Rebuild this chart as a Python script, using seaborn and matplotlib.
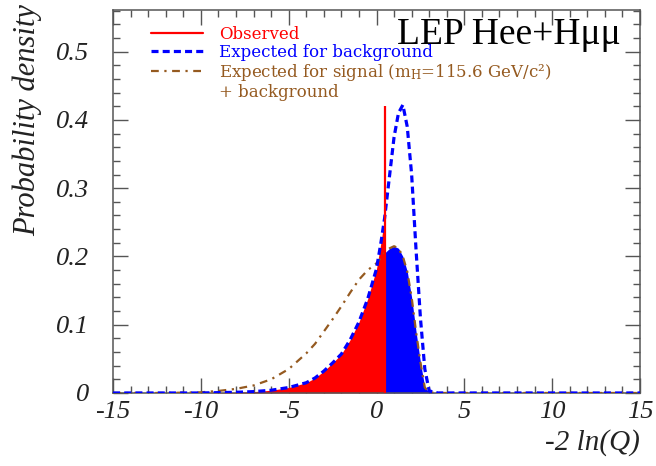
import numpy as np
import pandas as pd
import matplotlib
matplotlib.use("Agg")
import matplotlib.pyplot as plt
from matplotlib.lines import Line2D
from matplotlib.ticker import MultipleLocator
import seaborn as sns

# ---- data ----
x_vals = [-15, -12, -10, -9, -8, -7, -6, -5, -4, -3.5, -3, -2.5, -2, -1.5, -1, -0.5,
          0, 0.25, 0.46, 0.75, 1.0, 1.25, 1.5, 1.75, 2.0, 2.25, 2.5, 2.75, 3.0, 3.5, 5, 10, 15]
bkg_density = [0, 0, 0, 0.0005, 0.001, 0.002, 0.004, 0.008, 0.015, 0.022, 0.032, 0.044, 0.057,
               0.078, 0.104, 0.138, 0.182, 0.22, 0.256, 0.32, 0.375, 0.41, 0.422, 0.39, 0.32,
               0.21, 0.11, 0.035, 0.003, 0, 0, 0, 0]
sb_density = [0, 0, 0.001, 0.003, 0.006, 0.011, 0.02, 0.035, 0.058, 0.072, 0.09, 0.108, 0.127,
              0.147, 0.166, 0.18, 0.19, 0.198, 0.205, 0.212, 0.215, 0.212, 0.2, 0.178, 0.14,
              0.09, 0.045, 0.008, 0.001, 0, 0, 0, 0]
obs_value = 0.46
obs_height = 0.42

x_ticks = [-15, -10, -5, 0, 5, 10, 15]
x_ticklabels = ["-15", "-10", "-5", "0", "5", "10", "15"]
y_ticks = [0, 0.1, 0.2, 0.3, 0.4, 0.5]
y_ticklabels = ["0", "0.1", "0.2", "0.3", "0.4", "0.5"]

labels = ["Observed", "Expected for background",
          "Expected for signal (m$_{\\mathrm{H}}$=115.6 GeV/c\u00b2)",
          "+ background"]
title_text = "LEP Hee+H\u03bc\u03bc"

RED = "#ff0000"
BLUE = "#0000ff"
BROWN = "#955a20"

sns.set_style("ticks")
plt.rcParams["font.family"] = ["Liberation Serif", "DejaVu Serif"]
plt.rcParams["mathtext.fontset"] = "dejavuserif"

df = pd.DataFrame({"x": x_vals, "bkg": bkg_density, "sb": sb_density})

fig = plt.figure(figsize=(6.56, 4.66), dpi=100)
ax = fig.add_axes([0.1723, 0.1567, 0.8033, 0.8218])

xa = np.array(x_vals)
ax.fill_between(xa, df["bkg"], where=xa <= obs_value, color=RED, lw=0, zorder=1)
ax.fill_between(xa, df["sb"], where=xa >= obs_value, color=BLUE, lw=0, zorder=1)

sns.lineplot(data=df, x="x", y="sb", ax=ax, color=BROWN, lw=1.6, zorder=3)
ax.lines[-1].set_dashes((3.5, 2.5, 1, 2.5))
sns.lineplot(data=df, x="x", y="bkg", ax=ax, color=BLUE, lw=2.3, zorder=4)
ax.lines[-1].set_dashes((2.2, 1.3))
ax.vlines(obs_value, 0, obs_height, color=RED, lw=1.6, zorder=5)

ax.set_xlim(-15, 15)
ax.set_ylim(0, 0.561)
ax.set_xticks(x_ticks, labels=x_ticklabels, fontstyle="italic", fontsize=19, color="#222222")
ax.set_yticks(y_ticks, labels=y_ticklabels, fontstyle="italic", fontsize=19, color="#222222")
ax.xaxis.set_minor_locator(MultipleLocator(1))
ax.yaxis.set_minor_locator(MultipleLocator(0.02))

for s in ax.spines.values():
    s.set_color("#555555")
    s.set_linewidth(1.1)
ax.tick_params(which="both", direction="in", top=True, right=True, color="#555555", width=1.0)
ax.tick_params(which="major", length=11)
ax.tick_params(which="minor", length=5)
ax.tick_params(axis="y", which="major", pad=17)
ax.tick_params(axis="x", which="major", pad=6)

ax.set_xlabel("-2 ln(Q)", fontsize=21, fontstyle="italic", loc="right", color="#222222")
ax.xaxis.set_label_coords(1.0, -0.095)
ax.set_ylabel("Probability density", fontsize=22, fontstyle="italic", loc="top", color="#222222")
ax.yaxis.set_label_coords(-0.135, 1.015)

ax.text(0.963, 0.912, title_text, transform=ax.transAxes, ha="right", va="baseline",
        fontsize=27, color="black")

handles = [Line2D([], [], color=RED, lw=1.6),
           Line2D([], [], color=BLUE, lw=2.3, dashes=(2.2, 1.3)),
           Line2D([], [], color=BROWN, lw=1.6, dashes=(3.5, 2.5, 1, 2.5)),
           Line2D([], [], color="none", lw=0)]
leg = ax.legend(handles, labels, loc="upper left", bbox_to_anchor=(0.072, 0.958),
                frameon=False, borderpad=0, borderaxespad=0,
                prop={"family": "DejaVu Serif", "size": 12},
                labelspacing=0.05, handlelength=3.1, handletextpad=1.0,
                labelcolor=[RED, BLUE, BROWN, BROWN])

fig.savefig("out.png", dpi=100)
